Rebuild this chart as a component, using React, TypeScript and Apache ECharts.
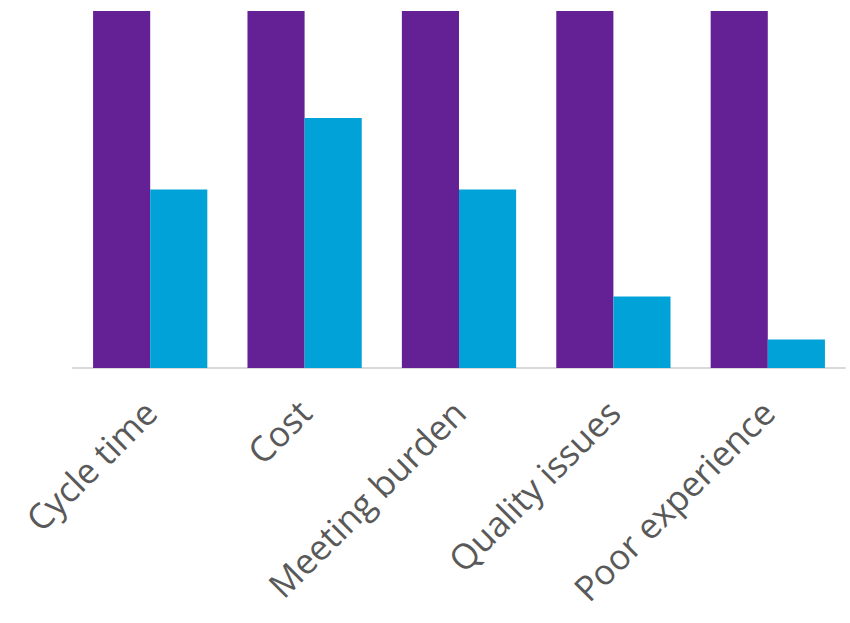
import React, { useEffect, useRef } from "react";
import * as echarts from "echarts";

const categories = ["Cycle time", "Cost", "Meeting burden", "Quality issues", "Poor experience"];
const seriesA = [100, 100, 100, 100, 100];
const seriesB = [50, 70, 50, 20, 8];

export default function App() {
  const ref = useRef<HTMLDivElement>(null);
  useEffect(() => {
    const chart = echarts.init(ref.current!, undefined, { renderer: "svg" });
    chart.setOption({
      animation: false,
      grid: { left: 73, right: 5, top: 11, bottom: 255, containLabel: false, outerBoundsMode: "none" },
      xAxis: {
        type: "category",
        data: categories,
        axisLine: { show: true, lineStyle: { color: "#d9d9d9", width: 2 } },
        axisTick: { show: false },
        axisLabel: {
          rotate: 45,
          interval: 0,
          margin: 38,
          color: "#595959",
          fontSize: 35,
          fontFamily: "Open Sans",
        },
      },
      yAxis: { type: "value", min: 0, max: 100, show: false, splitLine: { show: false } },
      series: [
        {
          type: "bar",
          data: seriesA,
          itemStyle: { color: "#642196" },
          barGap: "0%",
          barCategoryGap: "26%",
        },
        {
          type: "bar",
          data: seriesB,
          itemStyle: { color: "#00A2D8" },
        },
      ],
    });
    return () => chart.dispose();
  }, []);
  return <div ref={ref} style={{ width: 850, height: 623, position: "absolute", left: 0, top: 0 }} />;
}
